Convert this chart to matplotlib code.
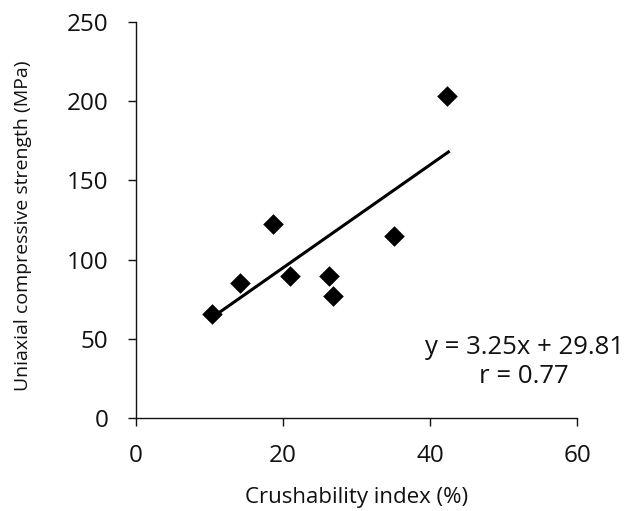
import matplotlib
matplotlib.use('Agg')
import matplotlib.pyplot as plt
import numpy as np

# data
crushability = [10.4, 14.1, 18.7, 20.9, 26.3, 26.8, 35.1, 42.3]
ucs = [65.6, 85.0, 122.2, 89.4, 89.9, 77.2, 114.6, 203.2]
slope, intercept, r_value = 3.25, 29.81, 0.77

x_ticks = [0, 20, 40, 60]
y_ticks = [0, 50, 100, 150, 200, 250]

plt.rcParams['font.family'] = ['Open Sans', 'DejaVu Sans']
TXT = '#111111'

fig = plt.figure(figsize=(6.44, 5.11), dpi=100)
ax = fig.add_axes([136 / 644, 1 - 418 / 511, 441 / 644, 396 / 511])

ax.scatter(crushability, ucs, marker='D', s=10.5 ** 2, color='black', zorder=3, linewidths=0)

# trend line from the equation shown on the chart
x_fit = np.array([min(crushability) + 1.0, max(crushability) + 0.2])
ax.plot(x_fit, slope * x_fit + intercept, color='black', lw=2.2, zorder=2)

ax.set_xlim(0, 60)
ax.set_ylim(0, 250)
ax.set_xticks(x_ticks)
ax.set_yticks(y_ticks)
ax.tick_params(direction='out', length=5.8, width=1, labelsize=17.5, colors=TXT)
ax.tick_params(axis='y', pad=14)
ax.tick_params(axis='x', pad=13)
for side in ['top', 'right']:
    ax.spines[side].set_visible(False)
for side in ['left', 'bottom']:
    ax.spines[side].set_linewidth(1)
    ax.spines[side].set_color(TXT)

fig.text(357 / 644, 1 - 498 / 511, 'Crushability index (%)', fontsize=16,
         ha='center', va='center', color=TXT)
fig.text(23 / 644, 1 - 226 / 511, 'Uniaxial compressive strength (MPa)', fontsize=14,
         ha='center', va='center', rotation=90, color=TXT)

ax.text(52.8, 44.5, f'y = {slope}x + {intercept}', ha='center', va='center',
        fontsize=18.5, color=TXT, clip_on=False)
ax.text(52.8, 25.9, f'r = {r_value}', ha='center', va='center',
        fontsize=18.5, color=TXT, clip_on=False)

fig.savefig('out.png', dpi=100)
